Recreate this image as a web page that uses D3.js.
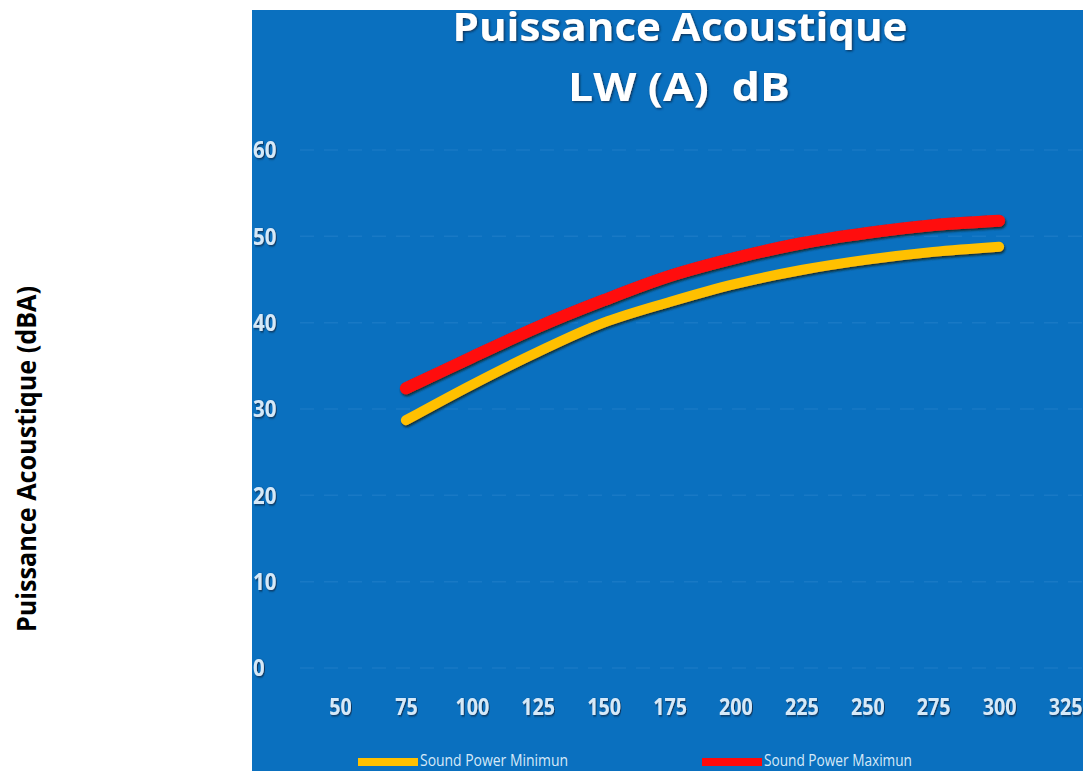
<!DOCTYPE html>
<html>
<head>
<meta charset="utf-8">
<script src="https://cdn.jsdelivr.net/npm/d3@7"></script>
<style>
  html, body { margin: 0; padding: 0; background: #fff; }
  svg { display: block; }
</style>
</head>
<body>
<div id="chart"></div>
<script>
// categories shown on the x axis
var categories = [50, 75, 100, 125, 150, 175, 200, 225, 250, 275, 300, 325];
// x values that carry data
var dataX = [75, 100, 125, 150, 175, 200, 225, 250, 275, 300];
var minValues = [28.7, 32.8, 36.6, 40.0, 42.4, 44.5, 46.1, 47.3, 48.2, 48.8];
var maxValues = [32.4, 36.0, 39.5, 42.6, 45.4, 47.5, 49.2, 50.4, 51.3, 51.8];
var yTicks = [0, 10, 20, 30, 40, 50, 60];
var seriesNames = ["Sound Power Minimun", "Sound Power Maximun"];
var titleLines = ["Puissance Acoustique", "LW (A)  dB"];
var yTitle = "Puissance Acoustique (dBA)";

var width = 1083, height = 771;
var panelLeft = 252, panelTop = 10;

var svg = d3.select("#chart").append("svg")
    .attr("width", width)
    .attr("height", height);

var defs = svg.append("defs");
var sh = defs.append("filter").attr("id", "txtShadow")
    .attr("x", "-10%").attr("y", "-20%").attr("width", "130%").attr("height", "150%");
sh.append("feDropShadow").attr("dx", 1.2).attr("dy", 1.2)
    .attr("stdDeviation", 0.8).attr("flood-color", "#0b2a4a").attr("flood-opacity", 0.9);

var lsh = defs.append("filter").attr("id", "lineShadow")
    .attr("x", "-5%").attr("y", "-20%").attr("width", "110%").attr("height", "140%");
lsh.append("feDropShadow").attr("dx", 1).attr("dy", 2)
    .attr("stdDeviation", 1.2).attr("flood-color", "#0d2b2a").attr("flood-opacity", 0.9);

// blue panel
svg.append("rect")
    .attr("x", panelLeft).attr("y", panelTop)
    .attr("width", width - panelLeft).attr("height", height - panelTop)
    .attr("fill", "#0a70bf");

//
// Scales
//
var x = d3.scalePoint().domain(categories).range([340, 1065]);
var y = d3.scaleLinear().domain([0, 60]).range([668, 150]);

// gridlines
svg.append("g").selectAll("line")
    .data(yTicks)
    .join("line")
    .attr("x1", 300).attr("x2", width)
    .attr("y1", function(d) { return y(d); })
    .attr("y2", function(d) { return y(d); })
    .attr("stroke", "#3a8fd3")
    .attr("stroke-opacity", 0.3)
    .attr("stroke-width", 1.5)
    .attr("stroke-dasharray", "14,10");

// y axis labels
var yAxis = svg.append("g")
    .attr("transform", "translate(" + (panelLeft + 1) + ",0)")
    .call(d3.axisRight(y).tickValues(yTicks).tickSize(0).tickPadding(0));
yAxis.select(".domain").remove();
yAxis.selectAll("text")
    .attr("fill", "#d6e9f8")
    .attr("font-family", "'Open Sans', sans-serif")
    .attr("font-weight", "bold")
    .attr("font-size", 24)
    .attr("transform", "scale(0.85,1)")
    .attr("filter", "url(#txtShadow)");

// x axis labels
var xAxis = svg.append("g")
    .attr("transform", "translate(0,697)")
    .call(d3.axisBottom(x).tickSize(0).tickPadding(0));
xAxis.select(".domain").remove();
xAxis.selectAll("text")
    .attr("fill", "#d6e9f8")
    .attr("font-family", "'Open Sans', sans-serif")
    .attr("font-weight", "bold")
    .attr("font-size", 24)
    .attr("dy", "0.75em")
    .attr("transform", "scale(0.82,1)")
    .attr("filter", "url(#txtShadow)");

// lines
var minData = dataX.map(function(d, i) { return [d, minValues[i]]; });
var maxData = dataX.map(function(d, i) { return [d, maxValues[i]]; });

var line = d3.line()
    .x(function(d) { return x(d[0]); })
    .y(function(d) { return y(d[1]); })
    .curve(d3.curveCatmullRom);

svg.append("path")
    .datum(maxData)
    .attr("fill", "none")
    .attr("stroke", "#ff0a0a")
    .attr("stroke-width", 12)
    .attr("stroke-linecap", "round")
    .attr("filter", "url(#lineShadow)")
    .attr("d", line);

svg.append("path")
    .datum(minData)
    .attr("fill", "none")
    .attr("stroke", "#ffc000")
    .attr("stroke-width", 10)
    .attr("stroke-linecap", "round")
    .attr("filter", "url(#lineShadow)")
    .attr("d", line);

// title
var title = svg.append("g")
    .attr("font-family", "'Open Sans', sans-serif")
    .attr("font-weight", "bold")
    .attr("fill", "#ffffff")
    .attr("text-anchor", "middle")
    .attr("filter", "url(#txtShadow)");
title.append("text")
    .attr("x", 680).attr("y", 41)
    .attr("font-size", 39)
    .attr("textLength", 455)
    .attr("lengthAdjust", "spacingAndGlyphs")
    .text(titleLines[0]);
title.append("text")
    .attr("x", 679).attr("y", 101)
    .attr("font-size", 40)
    .attr("textLength", 222)
    .attr("lengthAdjust", "spacingAndGlyphs")
    .style("white-space", "pre")
    .text(titleLines[1]);

// legend
var legendX = [358, 702];
var legendColors = ["#ffc000", "#ff0a0a"];
var legend = svg.append("g").selectAll("g")
    .data(seriesNames)
    .join("g")
    .attr("transform", function(d, i) { return "translate(" + legendX[i] + ",762)"; });
legend.append("line")
    .attr("x1", 0).attr("x2", 60)
    .attr("stroke", function(d, i) { return legendColors[i]; })
    .attr("stroke-width", 8);
legend.append("text")
    .attr("x", 62).attr("y", 4)
    .attr("fill", "#d6e9f8")
    .attr("font-family", "'Open Sans', sans-serif")
    .attr("font-size", 17)
    .attr("textLength", 148)
    .attr("lengthAdjust", "spacingAndGlyphs")
    .text(function(d) { return d; });

// y axis title outside the panel
svg.append("text")
    .attr("transform", "translate(36,459) rotate(-90)")
    .attr("text-anchor", "middle")
    .attr("font-family", "'Open Sans', sans-serif")
    .attr("font-weight", "bold")
    .attr("font-size", 26)
    .attr("fill", "#000")
    .attr("textLength", 346)
    .attr("lengthAdjust", "spacingAndGlyphs")
    .text(yTitle);
</script>
</body>
</html>
